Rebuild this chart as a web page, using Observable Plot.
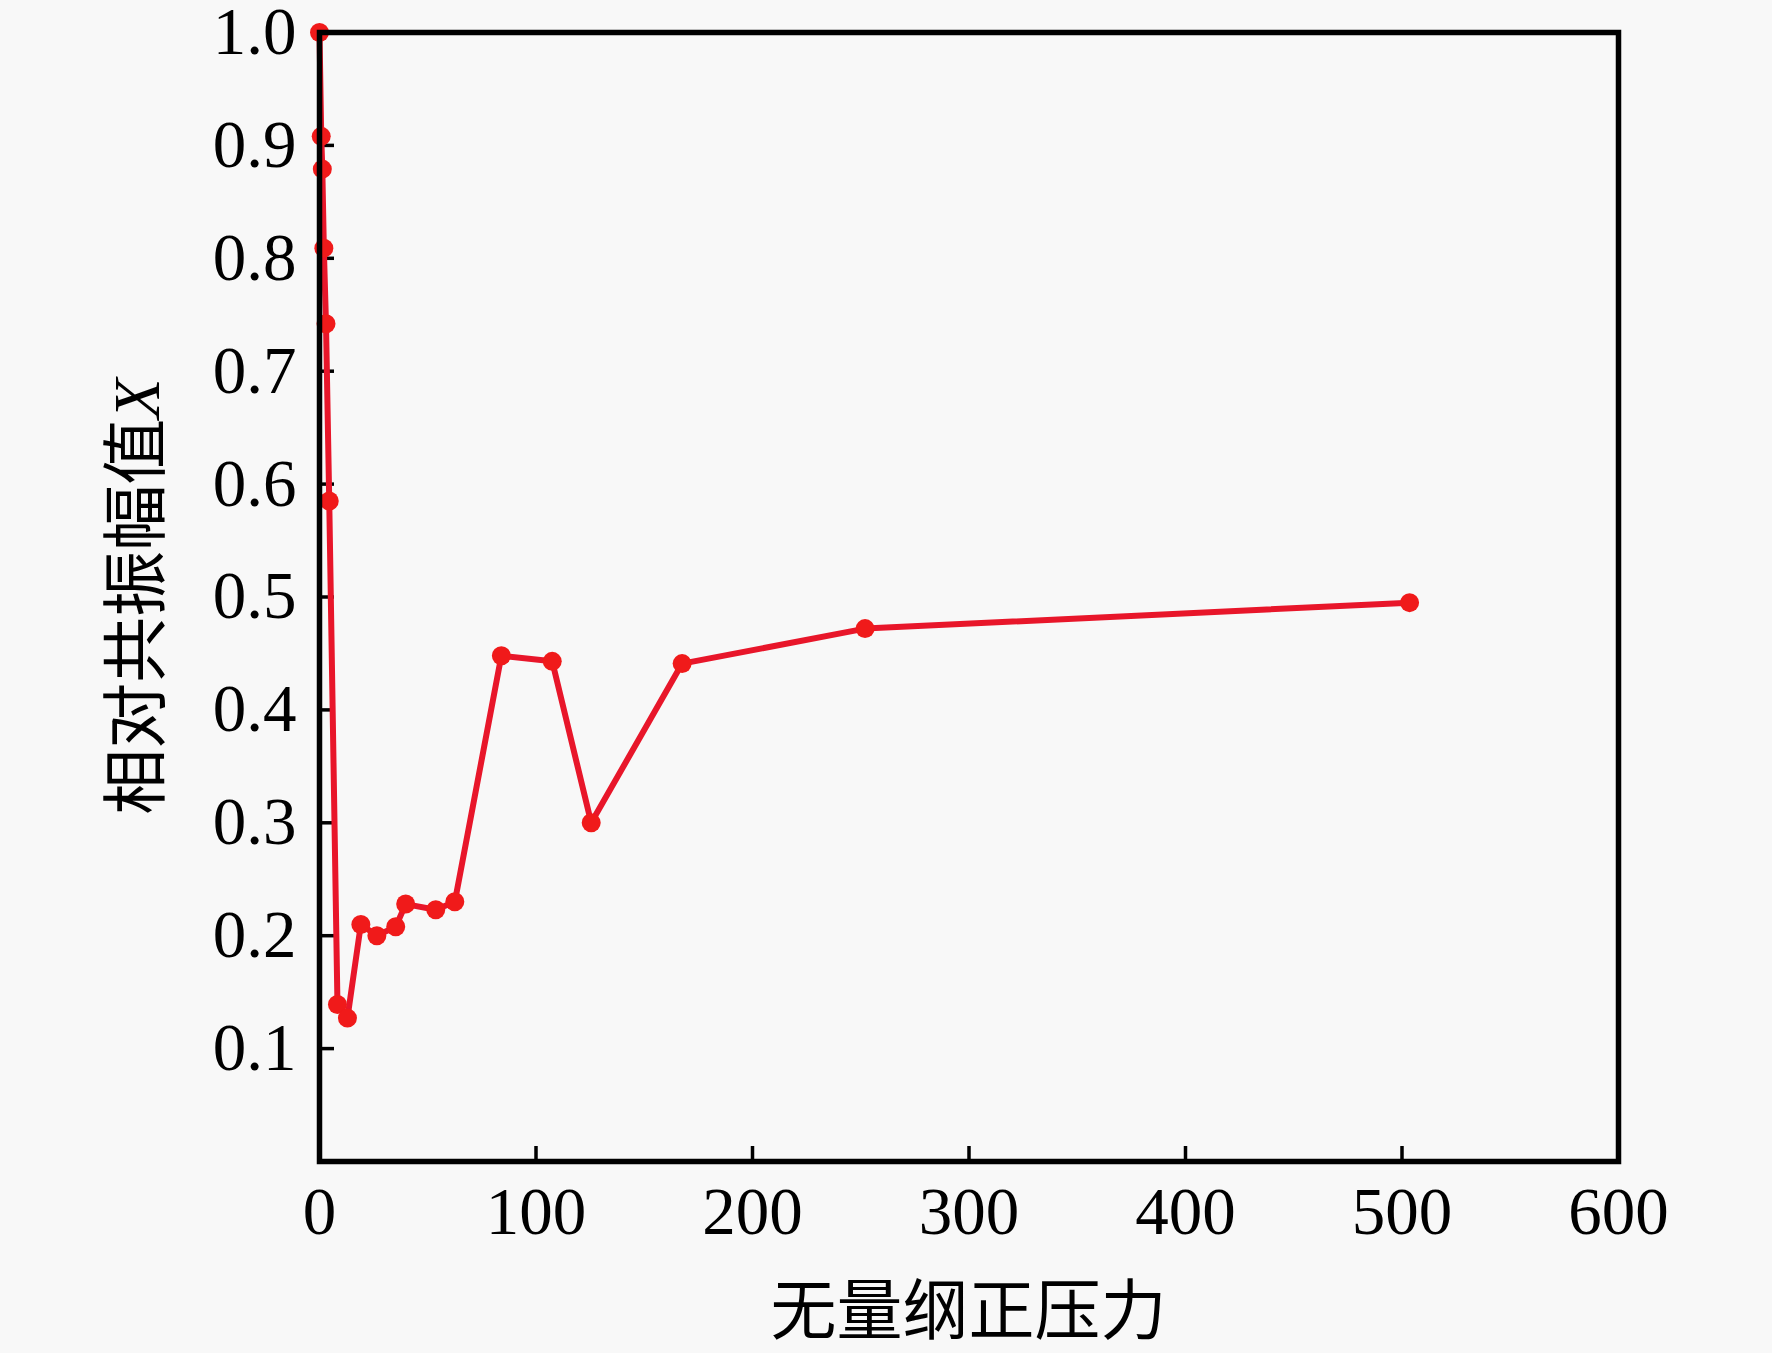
<!DOCTYPE html>
<html><head><meta charset="utf-8">
<script src="https://cdn.jsdelivr.net/npm/d3@7"></script>
<script src="https://cdn.jsdelivr.net/npm/@observablehq/plot@0.6"></script>
<style>html,body{margin:0;padding:0;background:#f8f8f8;}</style>
</head><body><div id="chart"></div>
<script>
// Data
const pressure = [0, 0.8, 1.3, 2, 3, 4.5, 8.3, 12.9, 19.1, 26.5, 35.2, 39.8, 53.7, 62.5, 84, 107.5, 125.5, 167.5, 252, 503.5];
const amplitude = [1.0, 0.908, 0.879, 0.809, 0.742, 0.585, 0.139, 0.127, 0.210, 0.200, 0.208, 0.228, 0.223, 0.230, 0.448, 0.443, 0.300, 0.441, 0.472, 0.495];
const xTicks = [0, 100, 200, 300, 400, 500, 600];
const yTicks = [0.1, 0.2, 0.3, 0.4, 0.5, 0.6, 0.7, 0.8, 0.9, 1.0];
const xLabel = "无量纲正压力";
const yLabelText = "相对共振幅值";
const yLabelVar = "X";

const W = 1772, H = 1353, mL = 319, mR = 154, mT = 32, mB = 192;
const innerW = W - mL - mR, innerH = H - mT - mB;
const data = pressure.map((x, i) => ({x, y: amplitude[i]}));
const serif = "'Liberation Serif', 'Times New Roman', 'Noto Sans CJK SC', serif";

const plot = Plot.plot({
  width: W, height: H,
  marginLeft: mL, marginRight: mR, marginTop: mT, marginBottom: mB,
  style: {background: "#f8f8f8", fontFamily: serif, color: "black"},
  x: {domain: [0, 600]},
  y: {domain: [0, 1]},
  marks: [
    Plot.ruleX(xTicks.slice(1, -1), {x: d => d, insetTop: innerH - 15, stroke: "black", strokeWidth: 3.5}),
    Plot.ruleY(yTicks.slice(0, -1), {y: d => d, insetRight: innerW - 15, stroke: "black", strokeWidth: 3.5}),
    Plot.axisX(xTicks, {tickSize: 0, tickPadding: 25, fontSize: 67, label: null, tickFormat: d => String(d)}),
    Plot.axisY(yTicks, {tickSize: 0, tickPadding: 23, fontSize: 67, label: null, tickFormat: d3.format(".1f")}),
    Plot.line(data, {x: "x", y: "y", stroke: "#e8162a", strokeWidth: 6}),
    Plot.dot(data, {x: "x", y: "y", r: 9.5, fill: "#f01a1a"}),
    Plot.frame({stroke: "black", strokeWidth: 5.5})
  ]
});

const svg = d3.select(plot);
svg.append("text")
  .attr("transform", `translate(${mL + innerW / 2},${H - 42})`)
  .attr("text-anchor", "middle")
  .attr("dy", "0.35em")
  .attr("font-size", 66)
  .attr("font-family", serif)
  .attr("fill", "black")
  .text(xLabel);

const yl = svg.append("text")
  .attr("transform", `translate(136,${mT + innerH / 2}) rotate(-90)`)
  .attr("text-anchor", "middle")
  .attr("dy", "0.35em")
  .attr("font-size", 66)
  .attr("font-family", serif)
  .attr("fill", "black");
yl.append("tspan").text(yLabelText);
yl.append("tspan").attr("font-style", "italic").text(yLabelVar);

document.getElementById("chart").appendChild(plot);
</script>
</body></html>
